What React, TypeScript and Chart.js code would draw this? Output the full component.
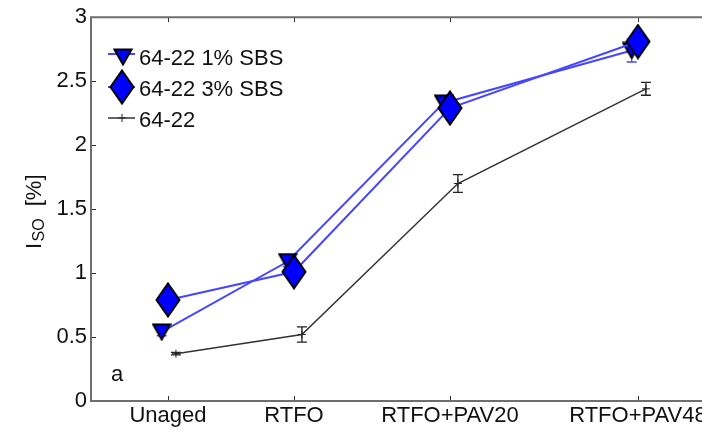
import React, { useEffect, useRef } from 'react';
import { Chart, registerables } from 'chart.js';

Chart.register(...registerables);

const categories = ['Unaged', 'RTFO', 'RTFO+PAV20', 'RTFO+PAV48'];
const categoryX = [1, 2, 3.238, 4.73];
const seriesNames = ['64-22 1% SBS', '64-22 3% SBS', '64-22'];
const sbs1Values = [0.54, 1.09, 2.33, 2.74];
const sbs1Errors = [0.03, 0.04, 0.05, 0.09];
const sbs3Values = [0.79, 1.01, 2.29, 2.81];
const sbs3Errors = [0.03, 0.04, 0.05, 0.06];
const baseValues = [0.37, 0.52, 1.7, 2.44];
const baseErrors = [0.01, 0.06, 0.07, 0.05];
const seriesShift = [-0.05, 0, 0.063];
const yTicks = [0, 0.5, 1, 1.5, 2, 2.5, 3];

const FONT = '"Liberation Sans", Arial, sans-serif';
const BLUE_LINE = '#4646ff';
const BLUE = '#0000ff';

function makeDiamond(): HTMLCanvasElement {
  const c = document.createElement('canvas');
  c.width = 26;
  c.height = 36;
  const g = c.getContext('2d')!;
  g.beginPath();
  g.moveTo(13, 1.5);
  g.lineTo(24.5, 18);
  g.lineTo(13, 34.5);
  g.lineTo(1.5, 18);
  g.closePath();
  g.fillStyle = BLUE;
  g.fill();
  g.lineWidth = 2;
  g.strokeStyle = '#000';
  g.stroke();
  return c;
}

function makeTriangle(): HTMLCanvasElement {
  const c = document.createElement('canvas');
  c.width = 20;
  c.height = 18;
  const g = c.getContext('2d')!;
  g.beginPath();
  g.moveTo(1.5, 1.5);
  g.lineTo(18.5, 1.5);
  g.lineTo(10, 16.5);
  g.closePath();
  g.fillStyle = BLUE;
  g.fill();
  g.lineWidth = 2;
  g.strokeStyle = '#000';
  g.stroke();
  return c;
}

export default function App() {
  const ref = useRef<HTMLCanvasElement | null>(null);

  useEffect(() => {
    if (!ref.current) return;
    const diamond = makeDiamond();
    const triangle = makeTriangle();
    const seriesValues = [sbs1Values, sbs3Values, baseValues];
    const seriesErrors = [sbs1Errors, sbs3Errors, baseErrors];

    const decor = {
      id: 'decor',
      beforeDatasetsDraw(chart: any) {
        const { ctx } = chart;
        const xs = chart.scales.x;
        const ys = chart.scales.y;
        ctx.save();
        seriesValues.forEach((vals, s) => {
          ctx.strokeStyle = s === 2 ? '#222' : BLUE_LINE;
          ctx.lineWidth = 1.3;
          vals.forEach((v, i) => {
            const e = seriesErrors[s][i];
            const x = xs.getPixelForValue(categoryX[i] + seriesShift[s]);
            const y1 = ys.getPixelForValue(v + e);
            const y2 = ys.getPixelForValue(v - e);
            ctx.beginPath();
            ctx.moveTo(x, y1);
            ctx.lineTo(x, y2);
            ctx.moveTo(x - 5, y1);
            ctx.lineTo(x + 5, y1);
            ctx.moveTo(x - 5, y2);
            ctx.lineTo(x + 5, y2);
            ctx.stroke();
          });
        });
        ctx.restore();
      },
      afterDraw(chart: any) {
        const { ctx, chartArea } = chart;
        const { left, right, top, bottom } = chartArea;
        const xs = chart.scales.x;
        const ys = chart.scales.y;
        ctx.save();
        // ticks (inward)
        ctx.strokeStyle = '#333';
        ctx.lineWidth = 1;
        ctx.beginPath();
        yTicks.forEach((t) => {
          const y = Math.round(ys.getPixelForValue(t)) + 0.5;
          ctx.moveTo(left, y);
          ctx.lineTo(left + 5, y);
        });
        categoryX.forEach((cx) => {
          const x = Math.round(xs.getPixelForValue(cx)) + 0.5;
          ctx.moveTo(x, bottom);
          ctx.lineTo(x, bottom - 5);
          ctx.moveTo(x, top);
          ctx.lineTo(x, top + 5);
        });
        ctx.stroke();
        // box
        ctx.strokeStyle = '#6e6e6e';
        ctx.lineWidth = 2;
        ctx.beginPath();
        ctx.moveTo(right + 5, top);
        ctx.lineTo(left, top);
        ctx.lineTo(left, bottom);
        ctx.lineTo(right + 5, bottom);
        ctx.stroke();

        // legend
        const rows = [57, 87, 118];
        const baselines = [65, 96, 127];
        ctx.font = `22px ${FONT}`;
        ctx.fillStyle = '#111';
        ctx.textAlign = 'left';
        ctx.textBaseline = 'alphabetic';
        rows.forEach((ry, k) => {
          ctx.strokeStyle = k === 2 ? '#333' : BLUE_LINE;
          ctx.lineWidth = k === 2 ? 1.5 : 2;
          const ly = k === 0 ? 54 : ry;
          ctx.beginPath();
          ctx.moveTo(108, ly);
          ctx.lineTo(135, ly);
          ctx.stroke();
          if (k === 0) {
            ctx.drawImage(triangle, 123 - triangle.width / 2, ry - triangle.height / 2);
          } else if (k === 1) {
            ctx.drawImage(diamond, 122 - diamond.width / 2, ry - diamond.height / 2);
          } else {
            ctx.strokeStyle = '#222';
            ctx.lineWidth = 1;
            ctx.beginPath();
            ctx.moveTo(122, ry - 4);
            ctx.lineTo(122, ry + 4);
            ctx.moveTo(118, ry);
            ctx.lineTo(126, ry);
            ctx.stroke();
          }
          ctx.fillStyle = '#111';
          ctx.fillText(seriesNames[k], 139, baselines[k]);
        });

        // panel label
        ctx.font = `22px ${FONT}`;
        ctx.fillText('a', 111, 381);

        // y axis title
        ctx.translate(41, 249);
        ctx.rotate(-Math.PI / 2);
        ctx.font = `22px ${FONT}`;
        ctx.fillText('I', 0, 0);
        let pos = ctx.measureText('I').width + 1.5;
        ctx.font = `16px ${FONT}`;
        ctx.fillText('SO', pos, 3);
        pos += ctx.measureText('SO').width + 12;
        ctx.font = `22px ${FONT}`;
        ctx.fillText('[%]', pos, 0);
        ctx.restore();
      },
    };

    const chart = new Chart(ref.current, {
      type: 'line',
      data: {
        datasets: [
          {
            label: seriesNames[0],
            data: sbs1Values.map((v, i) => ({ x: categoryX[i] + seriesShift[0], y: v })),
            borderColor: BLUE_LINE,
            borderWidth: 2,
            pointStyle: triangle as any,
            pointRadius: 10,
            tension: 0,
            fill: false,
            order: 1,
          },
          {
            label: seriesNames[1],
            data: sbs3Values.map((v, i) => ({ x: categoryX[i] + seriesShift[1], y: v })),
            borderColor: BLUE_LINE,
            borderWidth: 2,
            pointStyle: diamond as any,
            pointRadius: 12,
            tension: 0,
            fill: false,
            order: 0,
          },
          {
            label: seriesNames[2],
            data: baseValues.map((v, i) => ({ x: categoryX[i] + seriesShift[2], y: v })),
            borderColor: '#333',
            borderWidth: 1.5,
            pointStyle: 'cross',
            pointRadius: 4,
            pointBorderColor: '#222',
            pointBorderWidth: 1,
            tension: 0,
            fill: false,
            order: 2,
          },
        ],
      },
      options: {
        animation: false,
        responsive: false,
        maintainAspectRatio: false,
        layout: { padding: { left: 0, right: 20, top: 15, bottom: 0 } },
        plugins: { legend: { display: false }, tooltip: { enabled: false } },
        scales: {
          x: {
            type: 'linear',
            min: 0.389,
            max: 5.381,
            afterBuildTicks: (s: any) => {
              s.ticks = categoryX.map((v) => ({ value: v }));
            },
            afterFit: (s: any) => {
              s.height = 29;
            },
            ticks: {
              callback: (_v: any, i: number) => categories[i],
              font: { family: FONT, size: 22 },
              color: '#111',
              padding: 2,
              maxRotation: 0,
              autoSkip: false,
            },
            grid: { display: false, drawTicks: false },
            border: { display: false },
          },
          y: {
            type: 'linear',
            min: 0,
            max: 3,
            afterBuildTicks: (s: any) => {
              s.ticks = yTicks.map((v) => ({ value: v }));
            },
            afterFit: (s: any) => {
              s.width = 91;
            },
            ticks: {
              callback: (v: any) => String(v),
              font: { family: FONT, size: 22 },
              color: '#111',
              padding: 4,
            },
            grid: { display: false, drawTicks: false },
            border: { display: false },
          },
        },
      },
      plugins: [decor],
    });
    return () => chart.destroy();
  }, []);

  return (
    <div
      style={{
        position: 'fixed',
        left: 0,
        top: 0,
        width: 702,
        height: 430,
        overflow: 'hidden',
        background: '#fff',
      }}
    >
      <canvas ref={ref} width={740} height={430} style={{ display: 'block', width: 740, height: 430 }} />
    </div>
  );
}
